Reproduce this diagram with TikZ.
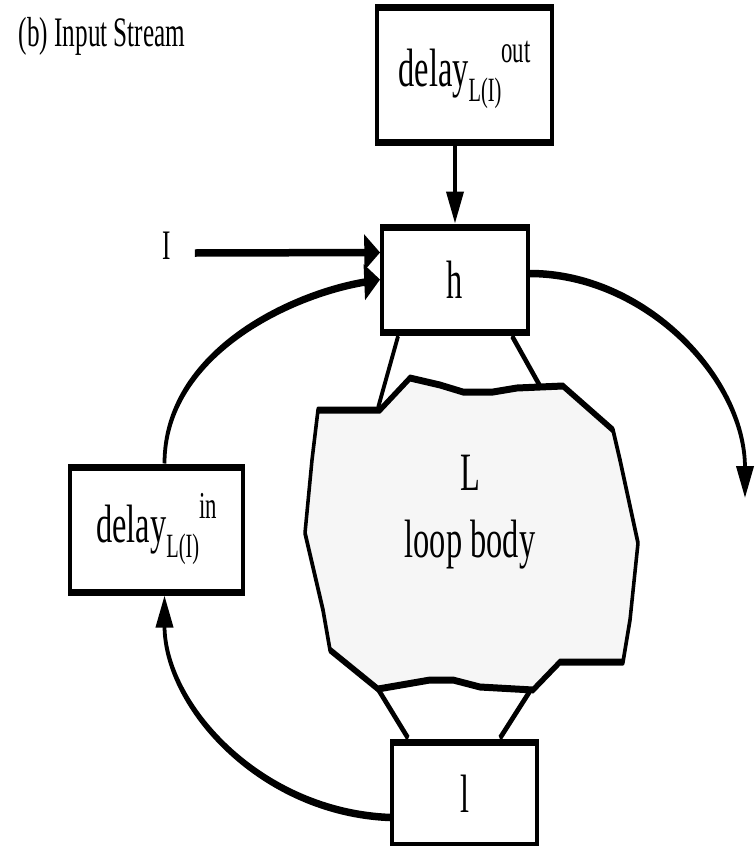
\documentclass[tikz,border=0pt]{standalone}
\usepackage{fontspec}
\setmainfont{Liberation Serif}[FakeStretch=1.2]
\usetikzlibrary{arrows.meta,calc}
\definecolor{bodyf}{HTML}{F6F6F6}
% delay label: subscript L(I), superscript given as argument
\newcommand{\dly}[1]{delay\raisebox{-15pt}{\fontsize{34}{34}\selectfont L(I)}\raisebox{24pt}{\fontsize{38}{38}\selectfont #1}}

\begin{document}
\begin{tikzpicture}[x=1pt,y=-1pt,
  box/.style={draw,fill=white,line width=7pt,inner sep=0pt,font=\fontsize{54}{58}\selectfont},
  body/.style={draw,fill=bodyf,line width=7pt,line join=round},
  edge/.style={line width=7pt},
  arr/.style={-{Triangle[length=32pt,width=34pt]},line width=7.5pt}]
\useasboundingbox (0,0) rectangle (755,846);
\begin{scope}[x=2pt,transform canvas={xscale=0.5}]
\node[anchor=west,font=\fontsize{42}{46}\selectfont] (title) at (17,36) {(b) Input Stream};
% loop body
\draw[body] (318,410) -- (380,410) -- (410,378) -- (440,385) -- (463,392) -- (493,392) -- (517,388) -- (563,386)
  -- (613,430) -- (620,460) -- (638,543) -- (630,620) -- (623,662) -- (560,662) -- (533,690)
  -- (480,687) -- (453,680) -- (430,680) -- (378,689) -- (330,650) -- (323,610) -- (305,533) -- (312,460) -- cycle;
\node[align=center,font=\fontsize{54}{67}\selectfont] (L) at (470,512) {L\\loop body};
\coordinate (tl) at (378,408);
\coordinate (tr) at (540,386);
\coordinate (bl) at (378,689);
\coordinate (br) at (530,691);
% boxes
\node[box,minimum width=350pt,minimum height=135pt] (dout) at (464.5,74.5) {\dly{out}};
\node[box,minimum width=292pt,minimum height=105pt] (h) at (455,279.5) {h};
\node[box,minimum width=346pt,minimum height=125pt] (din) at (156.5,529.5) {\dly{in}};
\node[box,minimum width=290pt,minimum height=103pt] (l) at (464.5,793.5) {l};
\node[font=\fontsize{42}{46}\selectfont] (I) at (167,246) {I};
\coordinate (exit) at (745,498);
% header and tail of the loop
\draw[edge] ($(h.south west)+(18,0)$) -- (tl);
\draw[edge] ($(h.south east)+(-18,0)$) -- (tr);
\draw[edge] (bl) -- ($(l.north west)+(18,0)$);
\draw[edge] (br) -- ($(l.north east)+(-39,0)$);
% streams
\draw[arr] ($(I.east)+(22,7)$) -- ($(h.west)+(0,-27)$);
\draw[arr] (dout.south -| h.north) -- (h.north);
\draw[arr] ($(din.north)+(8,0)$) .. controls +(0,-110) and +(-90,15) .. (h.west);
\draw[arr] ($(l.west)+(0,24)$) .. controls +(-130,-5) and +(0,110) .. ($(din.south)+(8,0)$);
\draw[arr] ($(h.east)+(0,-6)$) .. controls +(115,0) and +(0,-120) .. (exit);
\end{scope}
\end{tikzpicture}
\end{document}
